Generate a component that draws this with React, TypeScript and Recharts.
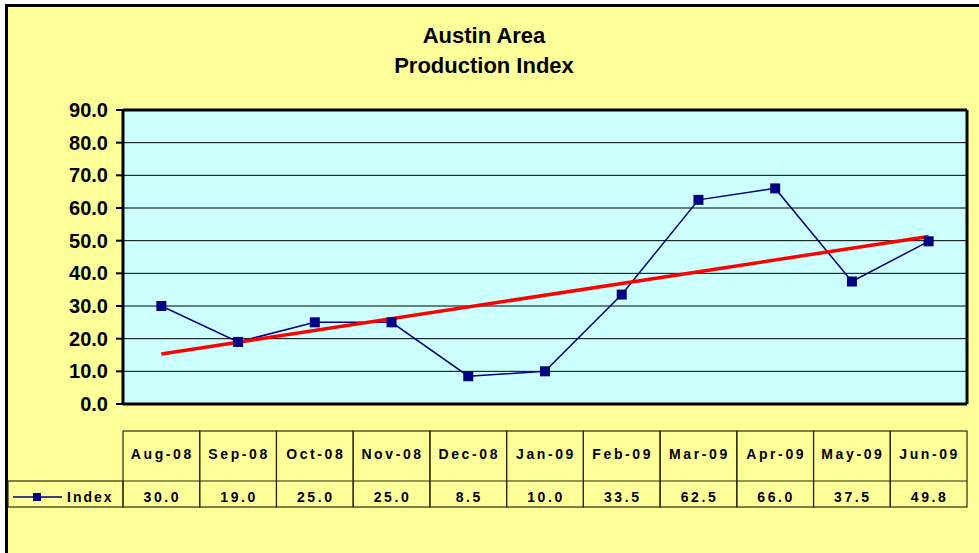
import { LineChart, Line, XAxis, YAxis, CartesianGrid, ReferenceLine } from "recharts";

const months = ["Aug-08", "Sep-08", "Oct-08", "Nov-08", "Dec-08", "Jan-09", "Feb-09", "Mar-09", "Apr-09", "May-09", "Jun-09"];
const indexValues = [30.0, 19.0, 25.0, 25.0, 8.5, 10.0, 33.5, 62.5, 66.0, 37.5, 49.8];
// linear trendline, ends
const trendValues = [15.3, null, null, null, null, null, null, null, null, null, 51.3];
const yTicks = [0, 10, 20, 30, 40, 50, 60, 70, 80, 90];

const data = months.map((m, i) => ({ month: m, index: indexValues[i], trend: trendValues[i] }));

const FONT = "'Liberation Sans', Arial, sans-serif";
const NAVY = "#000080";
const PLOT_LEFT = 123;
const PLOT_RIGHT = 967;
const BAND = (PLOT_RIGHT - PLOT_LEFT) / months.length;
const TABLE_TOP = 431;
const ROW_LINE = 481;
const TABLE_BOTTOM = 507;
const TABLE_STROKE = "#2a2a10";

function SquareDot(p: any) {
  if (p.cx == null || p.cy == null) return null;
  return <rect key={p.key} x={p.cx - 5} y={p.cy - 5} width={10} height={10} fill={NAVY} />;
}

function TableTick(props: any) {
  const { x, payload } = props;
  const i = months.indexOf(payload.value);
  const l = x - BAND / 2;
  const txt = { fontFamily: FONT, fontWeight: 700, fontSize: 14, letterSpacing: 2.6, fill: "#000" };
  return (
    <g>
      <rect x={l} y={TABLE_TOP} width={BAND} height={TABLE_BOTTOM - TABLE_TOP} fill="none" stroke={TABLE_STROKE} strokeWidth={1.2} />
      <line x1={l} x2={l + BAND} y1={ROW_LINE} y2={ROW_LINE} stroke={TABLE_STROKE} strokeWidth={1.2} />
      <text x={x + 1} y={454} textAnchor="middle" dominantBaseline="central" style={txt}>
        {payload.value}
      </text>
      <text x={x + 1} y={497} textAnchor="middle" dominantBaseline="central" style={txt}>
        {indexValues[i].toFixed(1)}
      </text>
      {i === 0 && (
        <g>
          <rect x={8} y={ROW_LINE} width={l - 8} height={TABLE_BOTTOM - ROW_LINE} fill="none" stroke={TABLE_STROKE} strokeWidth={1.2} />
          <line x1={13} x2={62} y1={497} y2={497} stroke={NAVY} strokeWidth={1.5} />
          <rect x={33} y={493} width={8} height={8} fill={NAVY} />
          <text x={67} y={497} dominantBaseline="central" style={{ ...txt, letterSpacing: 2 }}>
            Index
          </text>
        </g>
      )}
    </g>
  );
}

export default function App() {
  return (
    <div style={{ position: "absolute", left: 0, top: 0, width: 979, height: 553, overflow: "hidden", background: "#fff" }}>
      <div
        style={{
          position: "absolute",
          left: 5,
          top: 4,
          width: 1000,
          height: 600,
          background: "#FFFF99",
          border: "3px solid #000",
        }}
      />
      <div
        style={{
          position: "absolute",
          left: 0,
          top: 21,
          width: 968,
          textAlign: "center",
          fontFamily: FONT,
          fontWeight: 700,
          fontSize: 22,
          lineHeight: "30px",
          color: "#000",
        }}
      >
        <div>Austin Area</div>
        <div>Production Index</div>
      </div>
      <div style={{ position: "absolute", left: 0, top: 0 }}>
        <LineChart width={979} height={553} data={data} margin={{ top: 110, right: 0, bottom: 0, left: 0 }}>
          <CartesianGrid vertical={false} fill="#CCFFFF" stroke="#000" strokeWidth={1} />
          <XAxis
            dataKey="month"
            interval={0}
            height={149}
            tickLine={false}
            tickSize={0}
            padding={{ left: BAND / 2, right: BAND / 2 }}
            axisLine={{ stroke: "#000", strokeWidth: 3 }}
            tick={<TableTick />}
          />
          <YAxis
            width={123}
            domain={[0, 90]}
            ticks={yTicks}
            interval={0}
            tickSize={7}
            tickMargin={8}
            tickFormatter={(v: number) => v.toFixed(1)}
            tick={{ fontFamily: FONT, fontWeight: 700, fontSize: 20, fill: "#000" }}
            tickLine={{ stroke: "#000", strokeWidth: 2 }}
            axisLine={{ stroke: "#000", strokeWidth: 3 }}
          />
          <YAxis
            yAxisId="right"
            orientation="right"
            width={12}
            domain={[0, 90]}
            tick={false}
            tickLine={false}
            axisLine={{ stroke: "#000", strokeWidth: 3 }}
          />
          <ReferenceLine y={90} stroke="#000" strokeWidth={3} />
          <Line
            type="linear"
            dataKey="index"
            stroke={NAVY}
            strokeWidth={1.5}
            dot={<SquareDot />}
            isAnimationActive={false}
          />
          <Line
            type="linear"
            dataKey="trend"
            stroke="#FF0000"
            strokeWidth={3.5}
            dot={false}
            connectNulls
            isAnimationActive={false}
          />
        </LineChart>
      </div>
    </div>
  );
}
